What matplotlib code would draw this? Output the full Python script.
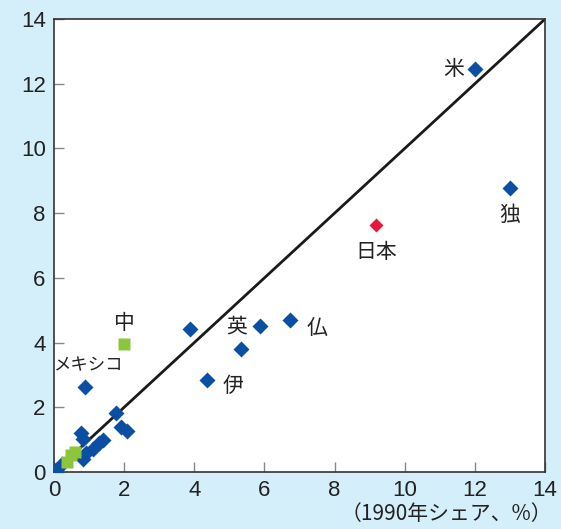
import numpy as np
import matplotlib
matplotlib.use('Agg')
import matplotlib.pyplot as plt

# 1990 share (x) vs current share (y), %
blue_x = [12.0, 13.0, 6.73, 5.87, 5.33, 4.36, 3.88, 0.88, 1.78, 1.92, 2.07,
          0.78, 0.84, 1.28, 1.40, 1.10, 0.90, 0.82, 0.22, 0.05]
blue_y = [12.45, 8.78, 4.70, 4.51, 3.80, 2.84, 4.42, 2.63, 1.83, 1.38, 1.27,
          1.22, 1.02, 0.90, 0.98, 0.72, 0.60, 0.40, 0.25, 0.05]
green_x = [2.0, 0.48, 0.60, 0.38]
green_y = [3.96, 0.52, 0.62, 0.30]
red_x = [9.18]
red_y = [7.63]

labels = ['米', '独', '日本', '仏', '英', '伊', '中', 'メキシコ']
label_x = [11.4, 13.0, 9.2, 7.5, 5.2, 5.1, 2.0, 0.95]
label_y = [12.45, 7.95, 6.8, 4.45, 4.5, 2.65, 4.6, 3.3]
label_size = [15, 15, 15, 15, 15, 15, 15, 12.5]

ticks = [0, 2, 4, 6, 8, 10, 12, 14]

plt.rcParams['font.family'] = ['Liberation Sans', 'Noto Sans CJK JP', 'DejaVu Sans']

fig = plt.figure(figsize=(5.61, 5.29), dpi=100, facecolor='#d4eefa')
ax = fig.add_axes([0.0963, 0.1078, 0.8752, 0.8562])
ax.set_facecolor('white')

ax.plot([0, 14], [0, 14], color='#1a1a1a', lw=2, zorder=2)
ax.plot(blue_x, blue_y, 'D', color='#0a4fa3', ms=8.5, mec='none', zorder=3)
ax.plot(green_x, green_y, 's', color='#8cc63f', ms=8.5, mec='none', zorder=3)
ax.plot(red_x, red_y, 'D', color='#e8173a', ms=7.5, mec='none', zorder=3)

for t, x, y, s in zip(labels, label_x, label_y, label_size):
    ax.text(x, y, t, fontsize=s, ha='center', va='center', color='#222222',
            family=['Noto Sans CJK JP', 'DejaVu Sans'])

ax.set_xlim(0, 14)
ax.set_ylim(0, 14)
ax.set_xticks(ticks)
ax.set_yticks(ticks)
ax.tick_params(direction='in', length=7, width=1, color='#888888',
               labelsize=16, labelcolor='#222222', pad=6)
for sp in ax.spines.values():
    sp.set_color('#333333')
    sp.set_linewidth(1.2)

fig.text(0.985, 0.008, '（1990年シェア、%）', ha='right', va='bottom', fontsize=15,
         color='#222222', family=['Noto Sans CJK JP', 'DejaVu Sans'])

plt.savefig('out.png', dpi=100, facecolor=fig.get_facecolor())
plt.close()
